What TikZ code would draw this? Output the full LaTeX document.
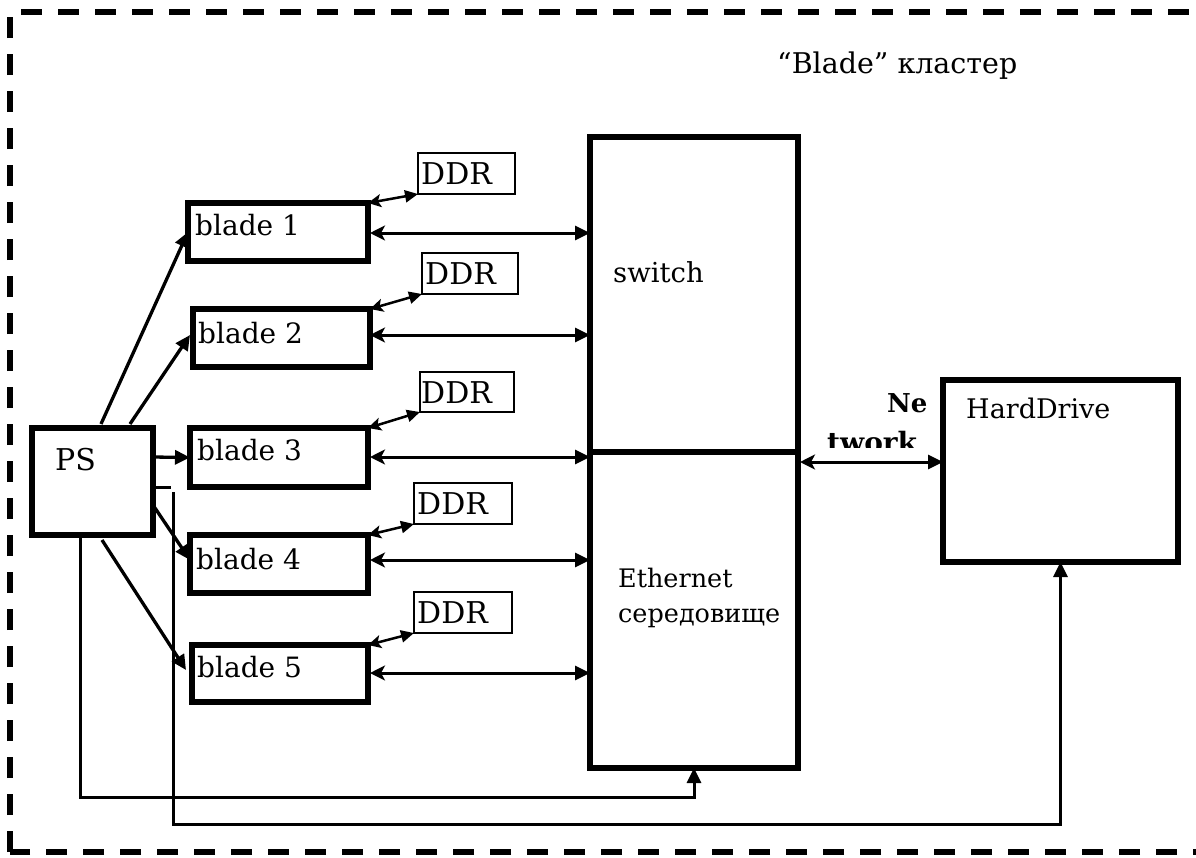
\documentclass[tikz,border=0pt]{standalone}
\usepackage{fontspec}
\setmainfont{DejaVu Serif}
\usetikzlibrary{arrows.meta,calc}
\begin{document}
\begin{tikzpicture}[x=1pt,y=-1pt,
  box/.style={draw, line width=5.5pt, inner sep=0pt, outer sep=0pt},
  thinbox/.style={draw, line width=2.8pt, inner sep=0pt, outer sep=0pt},
  lbl/.style={anchor=base west, inner sep=0pt, font=\fontsize{27}{32}\selectfont},
  conn/.style={line width=3pt},
  tipR/.tip={Triangle[length=15pt,width=14pt]},
  tipL/.tip={Stealth[length=15pt,width=15pt,inset=4pt]},
  dbl/.style={conn, tipL-tipR},
  one/.style={conn, -tipR},
  ddra/.style={conn, line width=2.5pt, {Stealth[length=13pt,width=13pt,inset=3pt]}-{Triangle[length=13pt,width=12pt]}}]
\useasboundingbox (0,0) rectangle (1196,857);
\draw[line width=5.5pt, dash pattern=on 21pt off 16pt] (10,852) -- (10,12) -- (1215,12) -- (1215,852) -- cycle;
% title
\node[lbl, font=\fontsize{28.5}{32}\selectfont] (title) at (777,73) {“Blade” кластер};
% PS
\node[box, minimum width=121pt, minimum height=107pt] (ps) at (92.5,481.5) {};
\node[lbl, font=\fontsize{30}{32}\selectfont] (pst) at (55,470) {PS};
% blades
\node[box, minimum width=180pt, minimum height=58pt] (b1) at (278,232) {};
\node[box, minimum width=177pt, minimum height=58pt] (b2) at (281.5,338) {};
\node[box, minimum width=178pt, minimum height=59pt] (b3) at (279,457.5) {};
\node[box, minimum width=178pt, minimum height=58pt] (b4) at (279,564) {};
\node[box, minimum width=176pt, minimum height=57pt] (b5) at (280,673.5) {};
\node[lbl, font=\fontsize{28}{32}\selectfont] (b1t) at (195,235) {blade 1};
\node[lbl, font=\fontsize{28}{32}\selectfont] (b2t) at (198,343) {blade 2};
\node[lbl, font=\fontsize{28}{32}\selectfont] (b3t) at (197,460) {blade 3};
\node[lbl, font=\fontsize{28}{32}\selectfont] (b4t) at (196,569) {blade 4};
\node[lbl, font=\fontsize{28}{32}\selectfont] (b5t) at (197,677) {blade 5};
% DDR
\node[thinbox, minimum width=97pt, minimum height=41pt] (d1) at (466.5,173.5) {};
\node[thinbox, minimum width=96pt, minimum height=41pt] (d2) at (470,273.5) {};
\node[thinbox, minimum width=94pt, minimum height=40pt] (d3) at (467,392) {};
\node[thinbox, minimum width=98pt, minimum height=41pt] (d4) at (463,503.5) {};
\node[thinbox, minimum width=98pt, minimum height=41pt] (d5) at (463,612.5) {};
\node[lbl, font=\fontsize{30}{32}\selectfont] (d1t) at (421,184) {DDR};
\node[lbl, font=\fontsize{30}{32}\selectfont] (d2t) at (425,284) {DDR};
\node[lbl, font=\fontsize{30}{32}\selectfont] (d3t) at (421,403) {DDR};
\node[lbl, font=\fontsize{30}{32}\selectfont] (d4t) at (417,514) {DDR};
\node[lbl, font=\fontsize{30}{32}\selectfont] (d5t) at (417,623) {DDR};
% switch
\node[box, minimum width=208pt, minimum height=315pt] (sw) at (694,294.5) {};
\node[box, minimum width=208pt, minimum height=316pt] (eth) at (694,610) {};
\node[lbl, font=\fontsize{27.5}{32}\selectfont] (swt) at (613,282) {switch};
\node[lbl, font=\fontsize{25.5}{32}\selectfont] (etht) at (618,587) {Ethernet};
\node[lbl, font=\fontsize{25.5}{32}\selectfont] (etht2) at (618,622) {середовище};
% HardDrive
\node[box, minimum width=235pt, minimum height=182pt] (hd) at (1060.5,471) {};
\node[lbl] (hdt) at (966,418) {HardDrive};
% Network label
\node[lbl, font=\fontsize{26}{30}\selectfont\bfseries] (ne) at (887,412) {Ne};
\begin{scope}
\clip (800,420) rectangle (940,447);
\node[lbl, font=\fontsize{28}{30}\selectfont\bfseries] (tw) at (827,452) {twork};
\end{scope}
% DDR <-> blade
\draw[ddra] (b1.north east) -- (d1.south west);
\draw[ddra] (b2.north east) -- (d2.south west);
\draw[ddra] (b3.north east) -- (d3.south west);
\draw[ddra] (b4.north east) -- (d4.south west);
\draw[ddra] (b5.north east) -- (d5.south west);
% blade <-> switch
\coordinate (a1) at (370,233);
\coordinate (a2) at (370,335);
\coordinate (a3) at (370,457);
\coordinate (a4) at (370,560);
\coordinate (a5) at (370,673);
\draw[dbl] (a1) -- (a1 -| sw.west);
\draw[dbl] (a2) -- (a2 -| sw.west);
\draw[dbl] (a3) -- (a3 -| eth.west);
\draw[dbl] (a4) -- (a4 -| eth.west);
\draw[dbl] (a5) -- (a5 -| eth.west);
% network
\coordinate (n1) at (800,462);
\draw[dbl] (n1) -- (n1 -| hd.west);
% PS -> blades
\draw[one, line width=3.3pt] (101,424) -- (b1.west);
\draw[one, line width=3.3pt] (130,424) -- (190,335);
\draw[one, line width=3.3pt] (153,457) -- (b3.west);
\draw[one, line width=3.3pt] (153,505) -- (190,560);
\draw[one, line width=3.3pt] (102,540) -- (186,670);
% PS -> switch, PS -> HD
\draw[one] (80,537) -- (80,797) -| (eth.south);
\draw[conn] (150,487) -- (171,487);
\draw[one] (173,492) -- (173,824) -| (hd.south);
\end{tikzpicture}
\end{document}
